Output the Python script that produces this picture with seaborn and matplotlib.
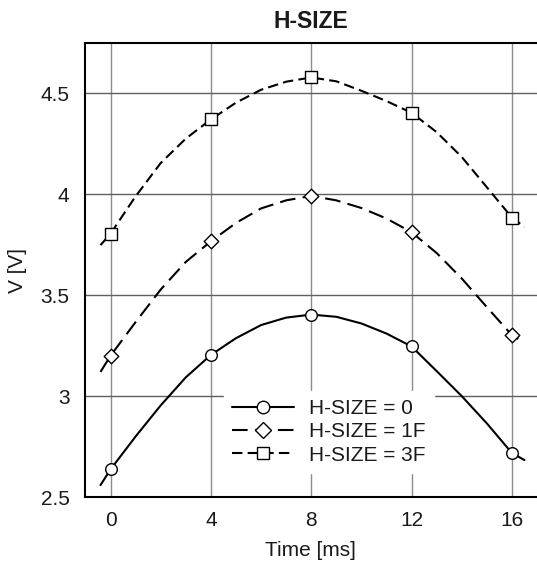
import matplotlib.pyplot as plt
import numpy as np
import pandas as pd
import seaborn as sns
from matplotlib.lines import Line2D

# Marker samples
t_marks = [0, 4, 8, 12, 16]
v0_marks = [2.637, 3.204, 3.404, 3.246, 2.718]
v1_marks = [3.200, 3.767, 3.992, 3.812, 3.302]
v3_marks = [3.805, 4.371, 4.579, 4.404, 3.885]

# Curve samples
t_curve = [-0.4, 0, 1, 2, 3, 4, 5, 6, 7, 8, 9, 10, 11, 12, 13, 14, 15, 16, 16.5]
v0_curve = [2.559, 2.637, 2.80, 2.954, 3.093, 3.204, 3.287, 3.352, 3.389, 3.404,
            3.393, 3.36, 3.31, 3.246, 3.124, 3.00, 2.865, 2.718, 2.683]
v1_curve = [3.12, 3.200, 3.367, 3.528, 3.665, 3.767, 3.858, 3.930, 3.970, 3.992,
            3.970, 3.932, 3.88, 3.812, 3.709, 3.583, 3.441, 3.302, 3.266]
v3_curve = [3.748, 3.805, 3.99, 4.155, 4.276, 4.371, 4.454, 4.518, 4.558, 4.579,
            4.560, 4.513, 4.462, 4.404, 4.308, 4.185, 4.035, 3.885, 3.838]

labels = ["H-SIZE = 0", "H-SIZE = 1F", "H-SIZE = 3F"]
markers = ["o", "D", "s"]
msizes = [70, 55, 65]
styles = ["-", (0, (7.5, 3.5)), (0, (5, 2.5))]

sns.set_style("white")
plt.rcParams["font.family"] = ["Liberation Sans", "DejaVu Sans"]
plt.rcParams["text.color"] = "#1a1a1a"
plt.rcParams["axes.labelcolor"] = "#1a1a1a"
plt.rcParams["xtick.color"] = "#1a1a1a"
plt.rcParams["ytick.color"] = "#1a1a1a"

fig = plt.figure(figsize=(5.37, 5.63), dpi=100)
ax = fig.add_axes([0.1577, 0.1172, 0.8423, 0.8058])

curves = [v0_curve, v1_curve, v3_curve]
marks = [v0_marks, v1_marks, v3_marks]
for vc, vm, mk, ms, ls in zip(curves, marks, markers, msizes, styles):
    sns.lineplot(x=t_curve, y=vc, ax=ax, color="black", linewidth=1.5,
                 linestyle=ls, sort=False, zorder=3)
    sns.scatterplot(x=t_marks, y=vm, ax=ax, marker=mk, s=ms, color="white",
                    edgecolor="black", linewidth=1.0, zorder=4)

ax.set_xlim(-1.03, 17.0)
ax.set_ylim(2.5, 4.748)
ax.set_xticks([0, 4, 8, 12, 16])
ax.set_yticks([2.5, 3, 3.5, 4, 4.5])
ax.set_yticklabels(["2.5", "3", "3.5", "4", "4.5"])
ax.grid(True, axis="y", color="#606060", linewidth=1.0)
ax.grid(True, axis="x", color="#8c8c8c", linewidth=1.0)
ax.set_axisbelow(True)
ax.tick_params(length=0, labelsize=15)
ax.tick_params(axis="y", pad=11)
ax.tick_params(axis="x", pad=10)

for side in ["left", "top", "bottom"]:
    ax.spines[side].set_color("black")
    ax.spines[side].set_linewidth(1.5)
ax.spines["right"].set_visible(False)

ax.set_xlabel("Time [ms]", fontsize=15, labelpad=8)
ax.set_ylabel("V [V]", fontsize=15, labelpad=10)
ax.set_title("H-SIZE", fontsize=16.5, fontweight="bold", pad=11)

handles = [
    Line2D([], [], color="black", linewidth=1.5, linestyle=ls, marker=mk,
           markersize=9 if mk != "D" else 8, markerfacecolor="white",
           markeredgecolor="black", markeredgewidth=1.0)
    for mk, ls in zip(markers, styles)
]
leg = ax.legend(handles, labels, loc="lower left",
                bbox_to_anchor=(0.307, 0.053), fontsize=15,
                handlelength=3.0, handletextpad=0.72, labelspacing=0.2,
                frameon=True, fancybox=False, borderpad=0.4,
                borderaxespad=0)
leg.get_frame().set_facecolor("white")
leg.get_frame().set_edgecolor("white")
leg.get_frame().set_alpha(1.0)

fig.savefig("out.png", dpi=100)
